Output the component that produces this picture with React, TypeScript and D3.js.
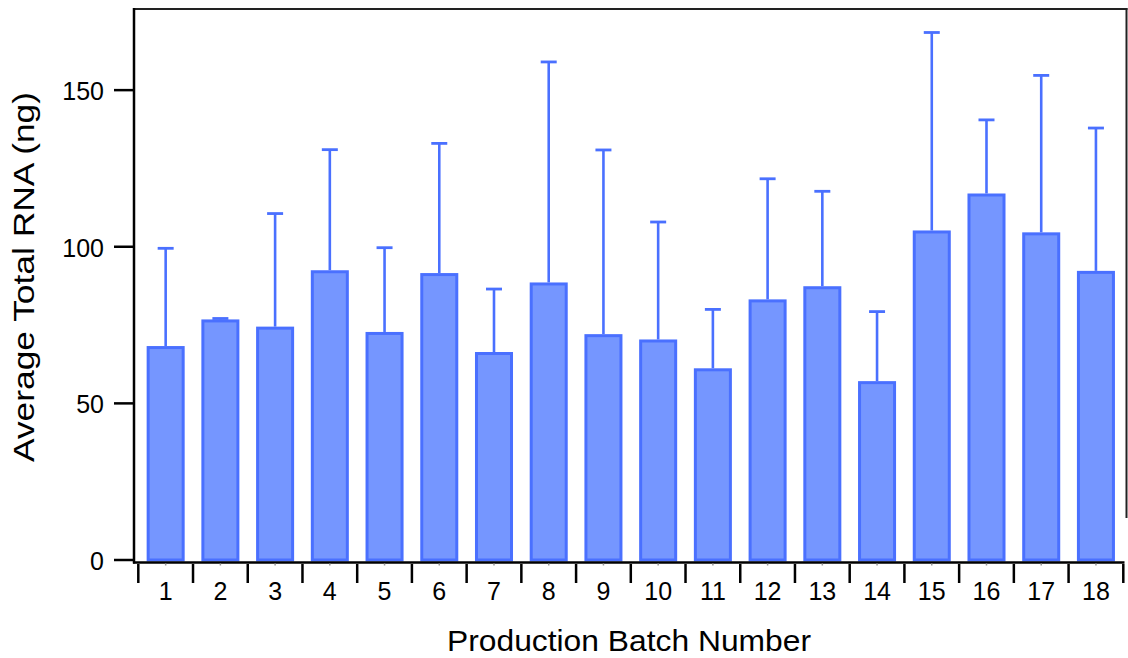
import React from "react";
import * as d3 from "d3";

const batches = ["1","2","3","4","5","6","7","8","9","10","11","12","13","14","15","16","17","18"];
const meanRNA = [68.3, 76.8, 74.5, 92.5, 72.8, 91.6, 66.4, 88.6, 72.1, 70.4, 61.2, 83.2, 87.4, 57.1, 105.2, 117.0, 104.6, 92.3];
const errRNA = [31.2, 0.3, 36.1, 38.5, 26.9, 41.4, 20.1, 70.4, 58.8, 37.5, 18.8, 38.5, 30.3, 22.2, 63.2, 23.5, 50.1, 45.6];
const yTicks = [0, 50, 100, 150];

const W = 1128;
const H = 658;
const FONT = "'Liberation Sans', Arial, Helvetica, sans-serif";
const STROKE = "#4a70ff";
const FILL = "#7596ff";

export default function App() {
  const x = d3.scaleBand<string>().domain(batches).range([138.3, 1123.3]).padding(0);
  const y = d3.scaleLinear().domain([0, 175.9]).range([560, 9]);
  const bw = x.bandwidth();
  const barW = bw * 0.64;
  const capW = 16;

  return (
    <svg width={W} height={H} style={{ position: "absolute", left: 0, top: 0, background: "#fff" }}>
      {/* bars */}
      {batches.map((b, i) => {
        const cx = (x(b) as number) + bw / 2;
        const top = y(meanRNA[i] + errRNA[i]);
        const yb = y(meanRNA[i]);
        return (
          <g key={b}>
            <line x1={cx} x2={cx} y1={yb} y2={top} stroke={STROKE} strokeWidth={2.6} />
            <line x1={cx - capW / 2} x2={cx + capW / 2} y1={top} y2={top} stroke={STROKE} strokeWidth={2.8} />
            <rect
              x={cx - barW / 2}
              y={yb + 1.5}
              width={barW}
              height={y(0) - yb - 1.5}
              fill={FILL}
              stroke={STROKE}
              strokeWidth={3}
            />
          </g>
        );
      })}

      {/* frame */}
      <line x1={133} x2={1127.5} y1={9} y2={9} stroke="#222" strokeWidth={2} />
      <line x1={1126.5} x2={1126.5} y1={8} y2={518} stroke="#222" strokeWidth={2} />
      <line x1={134} x2={134} y1={8} y2={563.5} stroke="#000" strokeWidth={2.5} />
      <line x1={133} x2={1124.5} y1={562.5} y2={562.5} stroke="#000" strokeWidth={2.5} />

      {/* y ticks */}
      {yTicks.map((t) => (
        <g key={t}>
          <line x1={114} x2={134} y1={y(t)} y2={y(t)} stroke="#000" strokeWidth={2.5} />
          <text x={104} y={y(t) + 10} textAnchor="end" fontFamily={FONT} fontSize={25} fill="#000">
            {t}
          </text>
        </g>
      ))}

      {/* x ticks at band boundaries */}
      {batches.map((b) => (
        <line key={"t" + b} x1={x(b) as number} x2={x(b) as number} y1={564} y2={583} stroke="#000" strokeWidth={2.5} />
      ))}
      <line x1={x.range()[1]} x2={x.range()[1]} y1={564} y2={583} stroke="#000" strokeWidth={2.5} />
      {batches.map((b) => (
        <line
          key={"m" + b}
          x1={(x(b) as number) + bw / 2}
          x2={(x(b) as number) + bw / 2}
          y1={563.5}
          y2={565.5}
          stroke="#999"
          strokeWidth={1.5}
        />
      ))}
      {batches.map((b) => (
        <text
          key={"l" + b}
          x={(x(b) as number) + bw / 2}
          y={599.5}
          textAnchor="middle"
          fontFamily={FONT}
          fontSize={25}
          fill="#000"
        >
          {b}
        </text>
      ))}

      {/* axis titles */}
      <text
        x={629}
        y={650.5}
        textAnchor="middle"
        fontFamily={FONT}
        fontSize={29}
        fill="#000"
        textLength={364}
        lengthAdjust="spacingAndGlyphs"
      >
        Production Batch Number
      </text>
      <text
        transform={`translate(34, 277) rotate(-90)`}
        textAnchor="middle"
        fontFamily={FONT}
        fontSize={29}
        fill="#000"
        textLength={370}
        lengthAdjust="spacingAndGlyphs"
      >
        Average Total RNA (ng)
      </text>
    </svg>
  );
}
